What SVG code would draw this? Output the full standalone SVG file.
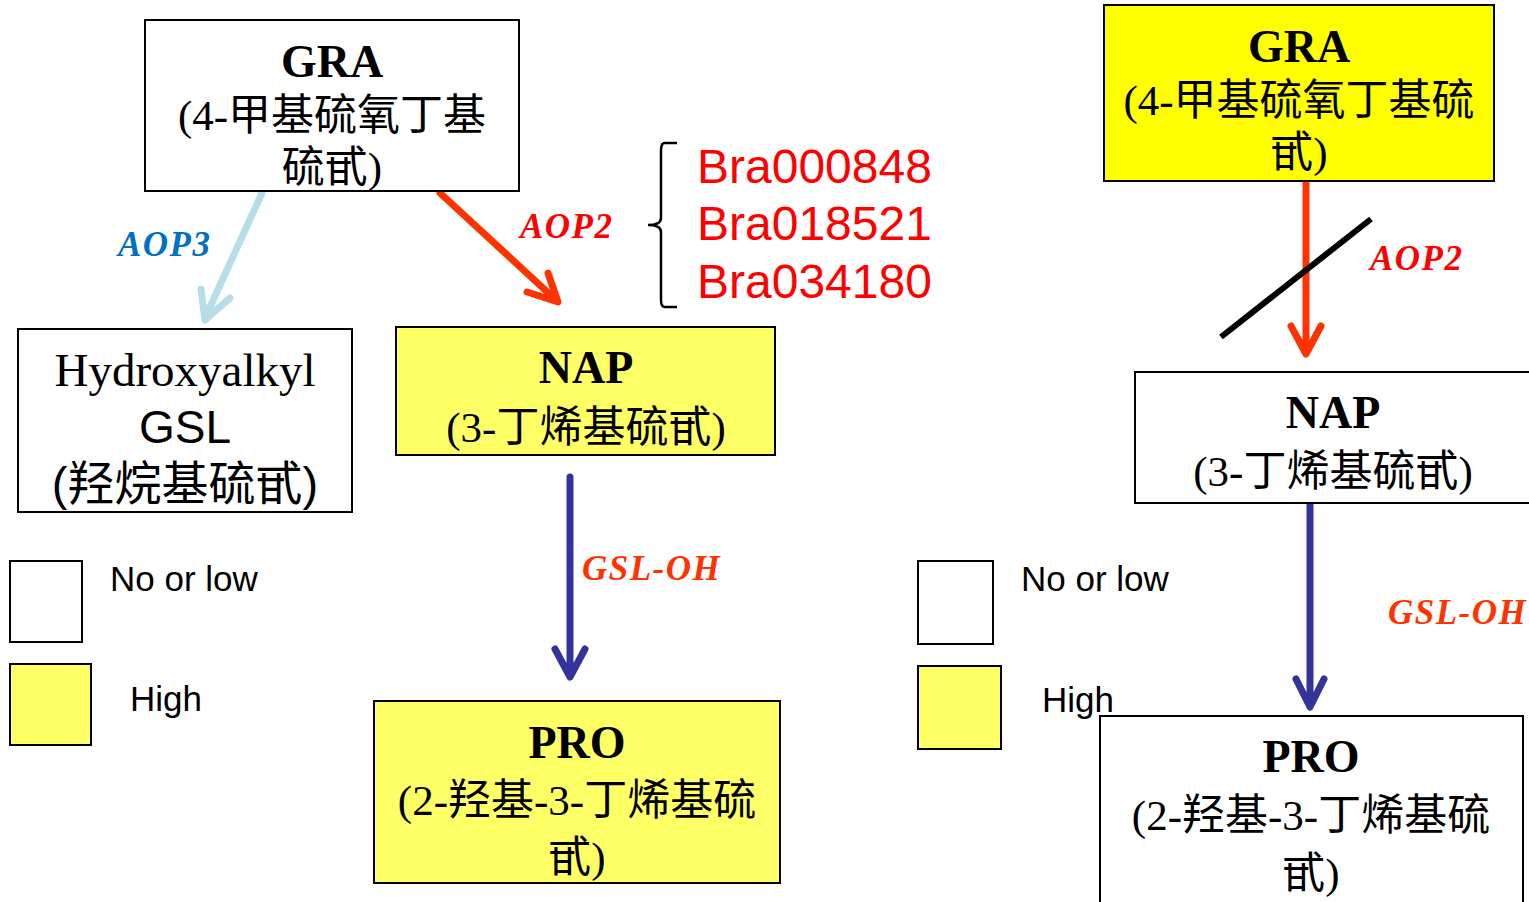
<svg xmlns="http://www.w3.org/2000/svg" width="1529" height="902" viewBox="0 0 1529 902">
<style>
.box{stroke:#000;stroke-width:2}
.w{fill:#fff}.y{fill:#ffff66}.yy{fill:#ffff00}
.t{font-family:"Liberation Serif","Noto Sans CJK SC",serif;text-anchor:middle;fill:#000}
.b{font-weight:bold;font-size:46px}
.s{font-size:43px}
.sans{font-family:"Liberation Sans","Noto Sans CJK SC",sans-serif;fill:#000}
.lbl{font-family:"Liberation Serif",serif;font-style:italic;font-weight:bold;font-size:35px;letter-spacing:1.5px}
.gene{font-family:"Liberation Sans",sans-serif;font-size:48px;fill:#ff0000}
.leg{font-family:"Liberation Sans",sans-serif;font-size:35px;fill:#000}
.arr{fill:none;stroke-width:7;stroke-linecap:round;stroke-linejoin:round}
</style>
<rect width="1529" height="902" fill="#fff"/>
<g id="connectors">
<path class="arr" stroke="#b7dee8" d="M262,193 L205,318 M201,289 L205,320 L230,298"/>
<path class="arr" stroke="#ff3300" d="M440,193 L556,300 M527,292 L558,302 L548,273"/>
<path class="arr" stroke="#ff3300" d="M1306,182 L1306,352 M1291,326 L1306,354 L1321,326"/>
<line x1="1221" y1="337" x2="1371" y2="219" stroke="#000" stroke-width="6"/>
<path class="arr" stroke="#333399" d="M570,477 L570,676 M555,649 L570,677 L585,649"/>
<path class="arr" stroke="#333399" d="M1310,505 L1310,706 M1296,679 L1310,707 L1324,679"/>
<path d="M677,143 L665,143 Q661,143 661,150 L661,218 Q661,225 648,225 Q661,225 661,232 L661,300 Q661,307 665,307 L677,307" fill="none" stroke="#000" stroke-width="2.5"/>
<text class="lbl" x="118" y="256" fill="#0070c0">AOP3</text>
<text class="lbl" x="520" y="238" fill="#ff0000">AOP2</text>
<text class="lbl" x="1370" y="270" fill="#ff0000">AOP2</text>
<text class="lbl" x="582" y="580" fill="#ff3300" font-size="36">GSL-OH</text>
<text class="lbl" x="1388" y="624" fill="#ff3300" font-size="36">GSL-OH</text>
<text class="gene" x="697" y="183">Bra000848</text>
<text class="gene" x="697" y="240">Bra018521</text>
<text class="gene" x="697" y="298">Bra034180</text>
</g>
<g id="gra-left">
<rect class="box w" x="145" y="20" width="374" height="171"/>
<text class="t b" x="332" y="77">GRA</text>
<text class="t s" x="332" y="130">(4-甲基硫氧丁基</text>
<text class="t s" x="332" y="182">硫甙)</text>
</g>
<g id="hydroxyalkyl">
<rect class="box w" x="18" y="329" width="334" height="183"/>
<text class="t" x="185" y="386" font-size="47">Hydroxyalkyl</text>
<text class="sans" x="185" y="443" font-size="46" text-anchor="middle">GSL</text>
<text class="sans" x="185" y="500" font-size="47" text-anchor="middle">(羟烷基硫甙)</text>
</g>
<g id="nap-left">
<rect class="box y" x="396" y="327" width="379" height="128"/>
<text class="t b" x="586" y="383">NAP</text>
<text class="t s" x="586" y="442">(3-丁烯基硫甙)</text>
</g>
<g id="pro-left">
<rect class="box y" x="374" y="701" width="406" height="182"/>
<text class="t b" x="577" y="758">PRO</text>
<text class="t s" x="577" y="815">(2-羟基-3-丁烯基硫</text>
<text class="t s" x="577" y="872">甙)</text>
</g>
<g id="legend-left">
<rect class="box w" x="10" y="561" width="72" height="81"/>
<text class="leg" x="110" y="591">No or low</text>
<rect class="box y" x="10" y="664" width="81" height="81"/>
<text class="leg" x="130" y="711">High</text>
</g>
<g id="gra-right">
<rect class="box yy" x="1104" y="5" width="390" height="176"/>
<text class="t b" x="1299" y="62">GRA</text>
<text class="t s" x="1299" y="115">(4-甲基硫氧丁基硫</text>
<text class="t s" x="1299" y="167">甙)</text>
</g>
<g id="nap-right">
<rect class="box w" x="1135" y="372" width="400" height="131"/>
<text class="t b" x="1333" y="428">NAP</text>
<text class="t s" x="1333" y="486">(3-丁烯基硫甙)</text>
</g>
<g id="pro-right">
<rect class="box w" x="1100" y="716" width="423" height="200"/>
<text class="t b" x="1311" y="772">PRO</text>
<text class="t s" x="1311" y="830">(2-羟基-3-丁烯基硫</text>
<text class="t s" x="1311" y="888">甙)</text>
</g>
<g id="legend-right">
<rect class="box w" x="918" y="561" width="75" height="83"/>
<text class="leg" x="1021" y="591">No or low</text>
<rect class="box y" x="918" y="666" width="83" height="83"/>
<text class="leg" x="1042" y="712">High</text>
</g>
</svg>
